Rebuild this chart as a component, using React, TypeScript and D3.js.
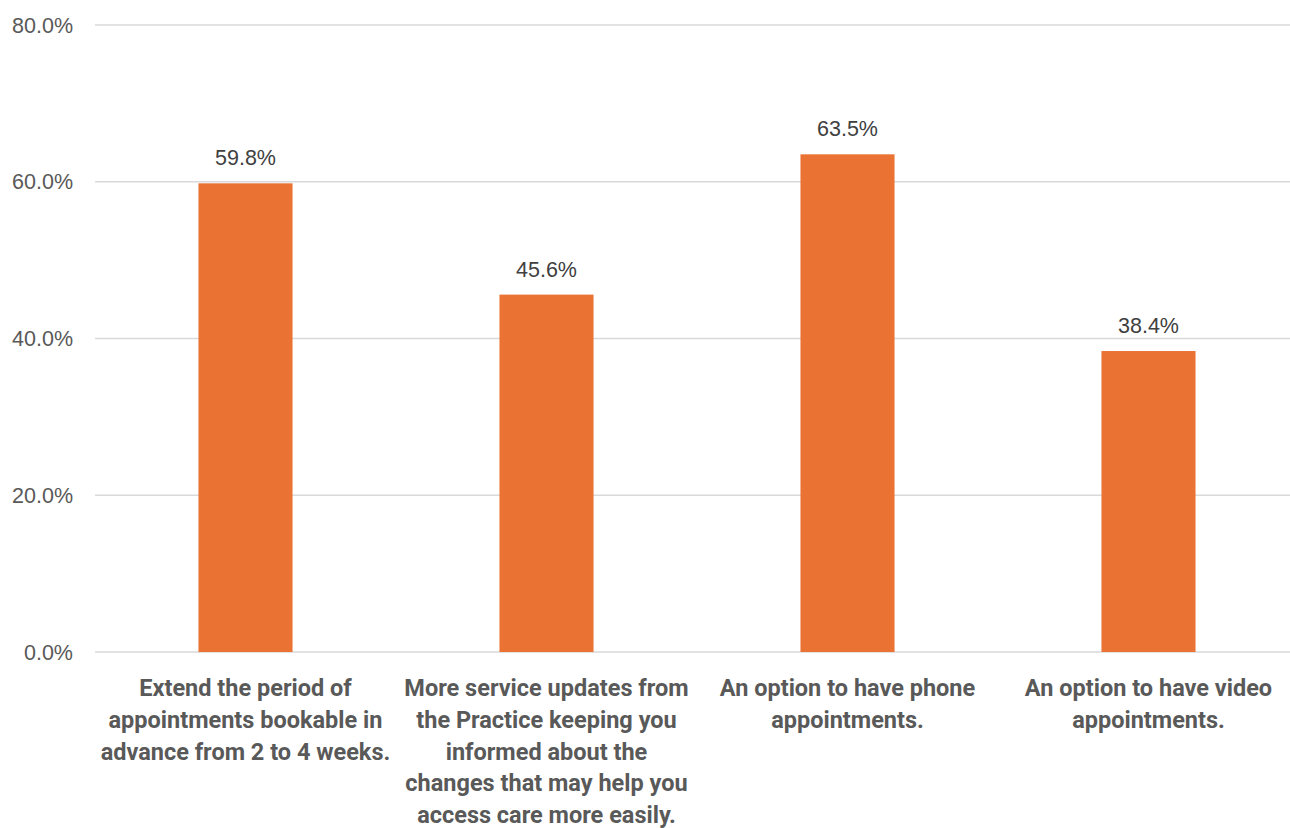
import { useEffect, useRef } from "react";
import * as d3 from "d3";

const WIDTH = 1290;
const HEIGHT = 828;
const MARGIN = { top: 25, right: -9, bottom: 176, left: 95 };

const categories = [
  ["Extend the period of", "appointments bookable in", "advance from 2 to 4 weeks."],
  [
    "More service updates from",
    "the Practice keeping you",
    "informed about the",
    "changes that may help you",
    "access care more easily.",
  ],
  ["An option to have phone", "appointments."],
  ["An option to have video", "appointments."],
];
const values = [59.8, 45.6, 63.5, 38.4];
const yTicks = [0, 20, 40, 60, 80];

const App = () => {
  const ref = useRef<SVGGElement>(null);
  const boundsWidth = WIDTH - MARGIN.left - MARGIN.right;
  const boundsHeight = HEIGHT - MARGIN.top - MARGIN.bottom;

  useEffect(() => {
    const g = d3.select(ref.current);
    g.selectAll("*").remove();

    const x = d3
      .scaleBand<number>()
      .domain(values.map((_, i) => i))
      .range([0, boundsWidth])
      .padding(0);
    const y = d3.scaleLinear().domain([0, 80]).range([boundsHeight, 0]);
    const barW = x.step() * 0.3125;

    // gridlines
    g.selectAll("line.grid")
      .data(yTicks)
      .join("line")
      .attr("x1", 0)
      .attr("x2", boundsWidth)
      .attr("y1", (d) => y(d))
      .attr("y2", (d) => y(d))
      .attr("stroke", "#d9d9d9")
      .attr("stroke-width", 1.5);

    // tick labels
    g.selectAll("text.tick")
      .data(yTicks)
      .join("text")
      .attr("x", -22)
      .attr("y", (d) => y(d))
      .attr("dy", "0.35em")
      .attr("text-anchor", "end")
      .attr("font-family", "'Liberation Sans', Arial, sans-serif")
      .attr("font-size", 21.5)
      .attr("fill", "#595959")
      .text((d) => d3.format(".1f")(d) + "%");

    // bars
    g.selectAll("rect.bar")
      .data(values)
      .join("rect")
      .attr("x", (_, i) => x(i)! + x.step() / 2 - barW / 2)
      .attr("y", (d) => y(d))
      .attr("width", barW)
      .attr("height", (d) => boundsHeight - y(d))
      .attr("fill", "#ea7233");

    // value labels
    g.selectAll("text.val")
      .data(values)
      .join("text")
      .attr("x", (_, i) => x(i)! + x.step() / 2)
      .attr("y", (d) => y(d) - 18)
      .attr("text-anchor", "middle")
      .attr("font-family", "'Liberation Sans', Arial, sans-serif")
      .attr("font-size", 21.5)
      .attr("fill", "#404040")
      .text((d) => d.toFixed(1) + "%");

    // category labels
    const cat = g
      .selectAll("text.cat")
      .data(categories)
      .join("text")
      .attr("x", (_, i) => x(i)! + x.step() / 2)
      .attr("y", boundsHeight + 44)
      .attr("text-anchor", "middle")
      .attr("font-family", "Roboto, sans-serif")
      .attr("font-weight", "bold")
      .attr("font-size", 23.5)
      .attr("fill", "#595959");
    cat
      .selectAll("tspan")
      .data((d) => d)
      .join("tspan")
      .attr("x", function () {
        return (this.parentNode as SVGTextElement).getAttribute("x");
      })
      .attr("dy", (_, i) => (i === 0 ? 0 : 31.8))
      .text((d) => d);
  }, [boundsWidth, boundsHeight]);

  return (
    <svg
      width={WIDTH}
      height={HEIGHT}
      style={{ position: "absolute", left: 0, top: 0, background: "#fff" }}
    >
      <g ref={ref} transform={`translate(${MARGIN.left},${MARGIN.top})`} />
    </svg>
  );
};

export default App;
